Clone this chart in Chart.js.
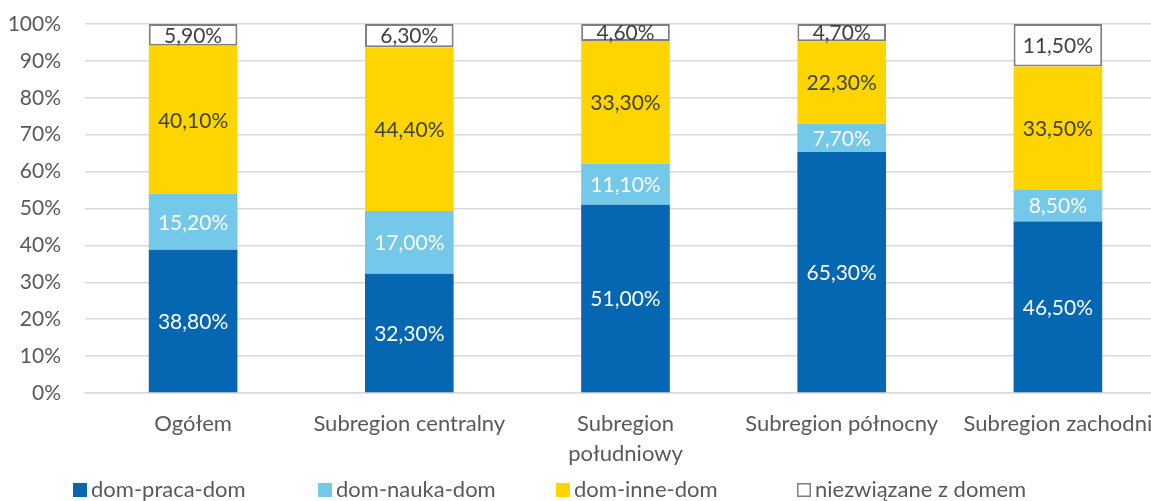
<!DOCTYPE html>
<html>
<head>
<meta charset="utf-8">
<script src="https://cdn.jsdelivr.net/npm/chart.js@4"></script>
<style>
  html, body { margin: 0; padding: 0; background: #fff; overflow: hidden; }
  #wrap { width: 1151px; height: 501px; overflow: hidden; }
  #box { width: 1166px; height: 501px; }
</style>
</head>
<body>
<div id="wrap"><div id="box"><canvas id="trips"></canvas></div></div>
<script>
const categories = ["Ogółem", "Subregion centralny", ["Subregion", "południowy"], "Subregion północny", "Subregion zachodni"];
const seriesNames = ["dom-praca-dom", "dom-nauka-dom", "dom-inne-dom", "niezwiązane z domem"];
const pracaValues = [38.8, 32.3, 51.0, 65.3, 46.5];
const naukaValues = [15.2, 17.0, 11.1, 7.7, 8.5];
const inneValues = [40.1, 44.4, 33.3, 22.3, 33.5];
const niezwiazaneValues = [5.9, 6.3, 4.6, 4.7, 11.5];
const yTicks = [0, 10, 20, 30, 40, 50, 60, 70, 80, 90, 100];

const FONT = "Lato, 'Open Sans', sans-serif";
const pct = v => v.toFixed(2).replace(".", ",") + "%";

// labels inside every segment
const segmentLabels = {
    id: "segmentLabels",
    afterDatasetsDraw(chart) {
        const ctx = chart.ctx;
        ctx.save();
        ctx.font = "21px " + FONT;
        ctx.textAlign = "center";
        ctx.textBaseline = "middle";
        chart.data.datasets.forEach((ds, i) => {
            chart.getDatasetMeta(i).data.forEach((bar, j) => {
                ctx.fillStyle = ds.labelColor;
                ctx.fillText(pct(ds.data[j]), bar.x, (bar.y + bar.base) / 2 + 1);
            });
        });
        ctx.restore();
    }
};

// spread-out legend at the bottom
const bottomLegend = {
    id: "bottomLegend",
    afterDraw(chart) {
        const ctx = chart.ctx;
        const xs = [73, 318, 556, 797];
        const y = 490;
        ctx.save();
        ctx.font = "22px " + FONT;
        ctx.textBaseline = "middle";
        ctx.textAlign = "left";
        chart.data.datasets.forEach((ds, i) => {
            ctx.fillStyle = ds.backgroundColor;
            ctx.fillRect(xs[i], y - 7, 14, 14);
            if (ds.borderWidth) {
                ctx.strokeStyle = ds.borderColor;
                ctx.lineWidth = 1.5;
                ctx.strokeRect(xs[i] + 0.75, y - 6.25, 12.5, 12.5);
            }
            ctx.fillStyle = "#595959";
            ctx.fillText(ds.label, xs[i] + 18, y);
        });
        ctx.restore();
    }
};

const common = { barPercentage: 0.41, categoryPercentage: 1, stack: "s" };

new Chart(document.getElementById("trips"), {
    type: "bar",
    data: {
        labels: categories,
        datasets: [
            { ...common, label: seriesNames[0], data: pracaValues, backgroundColor: "#0567B1", labelColor: "#ffffff", borderWidth: 0 },
            { ...common, label: seriesNames[1], data: naukaValues, backgroundColor: "#74C8E9", labelColor: "#ffffff", borderWidth: 0 },
            { ...common, label: seriesNames[2], data: inneValues, backgroundColor: "#FFD500", labelColor: "#404040", borderWidth: 0 },
            { ...common, label: seriesNames[3], data: niezwiazaneValues, backgroundColor: "#ffffff", labelColor: "#404040",
              borderColor: "#7f7f7f", borderWidth: 2, borderSkipped: false }
        ]
    },
    options: {
        responsive: true,
        maintainAspectRatio: false,
        animation: false,
        layout: { padding: { top: 24, right: 0, bottom: 28, left: 0 } },
        plugins: {
            legend: { display: false },
            tooltip: { enabled: false }
        },
        scales: {
            x: {
                stacked: true,
                grid: { display: false },
                border: { color: "#d9d9d9", width: 1.5 },
                ticks: { color: "#595959", font: { family: FONT, size: 22, lineHeight: 1.35 }, padding: 8, maxRotation: 0, autoSkip: false },
                afterFit: s => { s.height = 80; }
            },
            y: {
                stacked: true,
                min: 0,
                max: 100,
                afterBuildTicks: s => { s.ticks = yTicks.map(v => ({ value: v })); },
                grid: { color: "#d9d9d9", lineWidth: 1.5, drawTicks: false },
                border: { display: false },
                ticks: { color: "#595959", font: { family: FONT, size: 21 }, padding: 24, callback: v => v + "%" },
                afterFit: s => { s.width = 85; s.paddingTop = 0; s.paddingBottom = 0; }
            }
        }
    },
    plugins: [segmentLabels, bottomLegend]
});
</script>
</body>
</html>
